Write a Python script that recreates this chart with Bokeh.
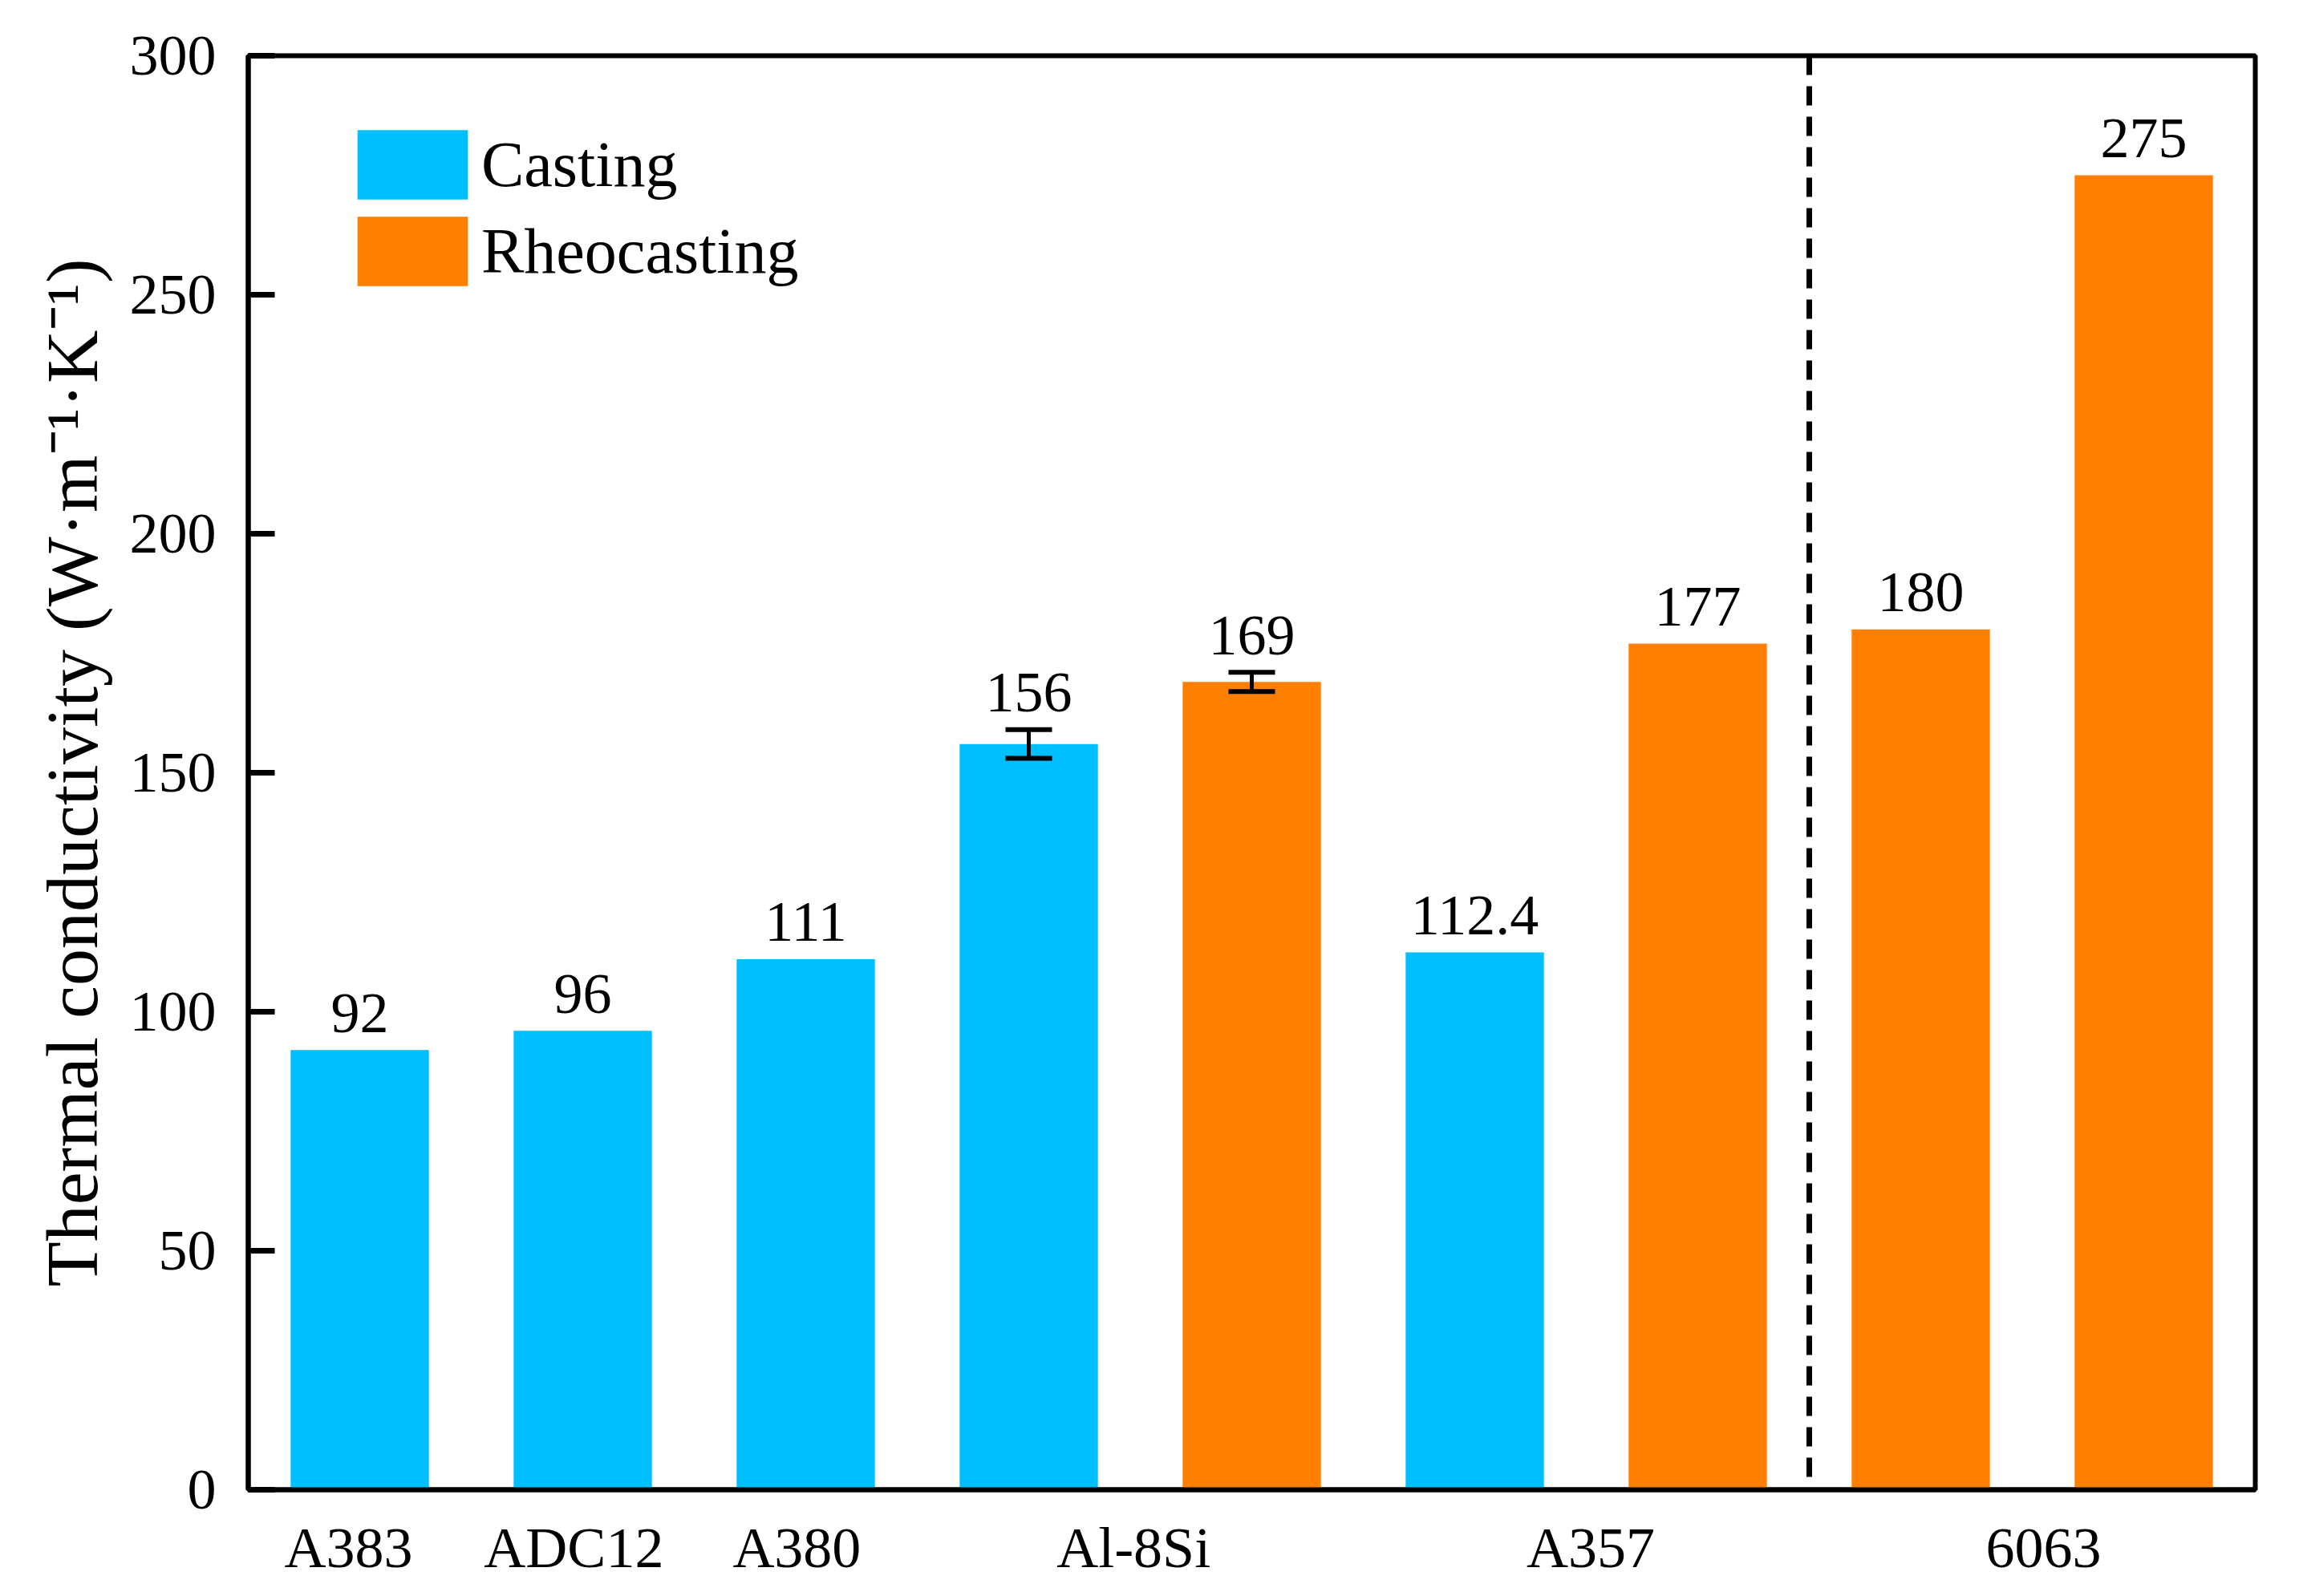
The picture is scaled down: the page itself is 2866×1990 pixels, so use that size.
from bokeh.plotting import figure
from bokeh.models import ColumnDataSource, Whisker, Span, Legend, LegendItem, FixedTicker, TeeHead
from bokeh.core.properties import value
from bokeh.embed import file_html
from bokeh.resources import INLINE

# ---- data ----
bar_pos = [0, 1, 2, 3, 4, 5, 6, 7, 8]
bar_alloy = ["A383", "ADC12", "A380", "Al-8Si", "Al-8Si", "A357", "A357", "6063", "6063"]
bar_process = ["Casting", "Casting", "Casting", "Casting", "Rheocasting",
               "Casting", "Rheocasting", "Rheocasting", "Rheocasting"]
conductivity = [92, 96, 111, 156, 169, 112.4, 177, 180, 275]
errors = [0, 0, 0, 3, 2, 0, 0, 0, 0]
value_labels = ["92", "96", "111", "156", "169", "112.4", "177", "180", "275"]

group_labels = ["A383", "ADC12", "A380", "Al-8Si", "A357", "6063"]
group_label_pos = [-0.05, 0.96, 1.96, 3.47, 5.52, 7.55]
divider_pos = 6.5
y_ticks = [0, 50, 100, 150, 200, 250, 300]

colors = {"Casting": "#00BFFF", "Rheocasting": "#FF8000"}
FONT = "Liberation Serif"

def subset(proc):
    idx = [i for i, p in enumerate(bar_process) if p == proc]
    return ColumnDataSource(dict(
        x=[bar_pos[i] for i in idx],
        top=[conductivity[i] for i in idx],
    ))

p = figure(width=2850, height=1974, x_range=(-0.5, 8.5), y_range=(0, 300),
           output_backend="svg", toolbar_location=None,
           min_border_left=309, min_border_right=39,
           min_border_top=69, min_border_bottom=117)

p.xgrid.visible = False
p.ygrid.visible = False
p.outline_line_color = "black"
p.outline_line_width = 6
p.background_fill_color = "white"
p.border_fill_color = "white"

r_cast = p.vbar(x="x", top="top", width=0.62, source=subset("Casting"),
                fill_color=colors["Casting"], line_color=None)
r_rheo = p.vbar(x="x", top="top", width=0.62, source=subset("Rheocasting"),
                fill_color=colors["Rheocasting"], line_color=None)

# error bars
eidx = [i for i, e in enumerate(errors) if e > 0]
err_src = ColumnDataSource(dict(
    x=[bar_pos[i] for i in eidx],
    upper=[conductivity[i] + errors[i] for i in eidx],
    lower=[conductivity[i] - errors[i] for i in eidx],
))
p.add_layout(Whisker(base="x", upper="upper", lower="lower", source=err_src,
                     level="overlay",
                     line_color="black", line_width=5,
                     upper_head=TeeHead(size=58, line_width=6, line_color="black"),
                     lower_head=TeeHead(size=58, line_width=6, line_color="black")))

# value labels
lbl_src = ColumnDataSource(dict(
    x=bar_pos,
    y=[c + e for c, e in zip(conductivity, errors)],
    text=value_labels,
))
p.text(x="x", y="y", text="text", source=lbl_src,
       text_font=value(FONT), text_font_size="72px", text_color="black",
       text_align="center", text_baseline="alphabetic", y_offset=-46)

# divider
p.add_layout(Span(location=divider_pos, dimension="height", line_color="black",
                  line_width=7, line_dash="24 14"))

# axes
p.yaxis.ticker = FixedTicker(ticks=y_ticks)
p.yaxis.axis_label = "Thermal conductivity (W·m⁻¹·K⁻¹)"
p.yaxis.axis_label_text_font = FONT
p.yaxis.axis_label_text_font_style = "normal"
p.yaxis.axis_label_text_font_size = "92px"
p.yaxis.axis_label_text_color = "black"
p.yaxis.axis_label_standoff = 18
p.yaxis.major_label_text_font = FONT
p.yaxis.major_label_text_font_size = "72px"
p.yaxis.major_label_text_color = "black"
p.yaxis.major_label_standoff = 40
p.yaxis.major_tick_in = 33
p.yaxis.major_tick_out = 0
p.yaxis.major_tick_line_width = 7
p.yaxis.minor_tick_line_color = None
p.yaxis.axis_line_width = 6

p.xaxis.ticker = FixedTicker(ticks=group_label_pos)
p.xaxis.major_label_overrides = {pos: lab for pos, lab in zip(group_label_pos, group_labels)}
p.xaxis.major_label_text_font = FONT
p.xaxis.major_label_text_font_size = "72px"
p.xaxis.major_label_text_color = "black"
p.xaxis.major_label_standoff = 26
p.xaxis.major_tick_line_color = None
p.xaxis.minor_tick_line_color = None
p.xaxis.axis_line_width = 6

legend = Legend(items=[LegendItem(label="Casting", renderers=[r_cast]),
                       LegendItem(label="Rheocasting", renderers=[r_rheo])],
                location=(119, 1490), glyph_width=172, glyph_height=108,
                label_height=108, label_text_font=FONT, label_text_font_size="80px",
                label_text_color="black",
                label_standoff=0, spacing=0, padding=0, margin=0,
                border_line_color=None, background_fill_alpha=0)
p.add_layout(legend)

open("out.html", "w").write(file_html(p, INLINE))
